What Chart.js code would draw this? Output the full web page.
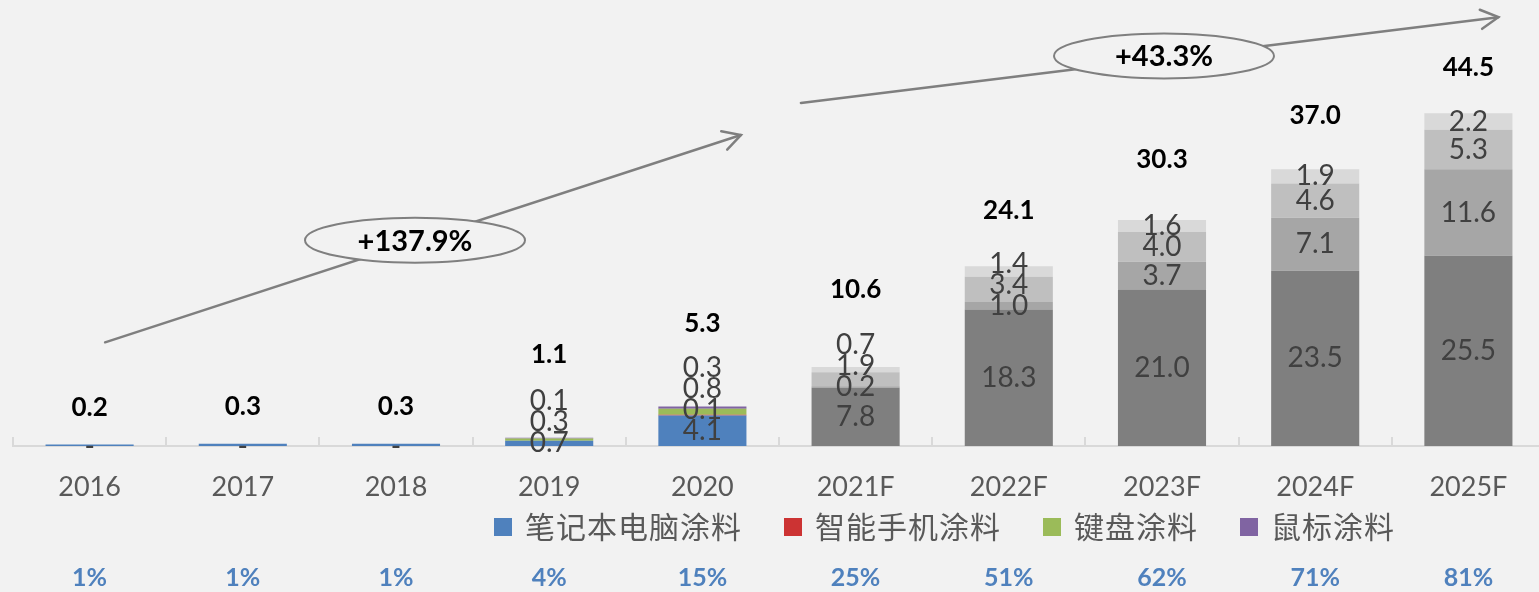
<!DOCTYPE html>
<html>
<head>
<meta charset="utf-8">
<script src="https://cdn.jsdelivr.net/npm/chart.js@4.4.1/dist/chart.umd.min.js"></script>
<style>
  html, body { margin: 0; padding: 0; background: #f2f2f2; overflow: hidden; }
  #wrap { position: relative; width: 1545px; height: 592px; }
</style>
</head>
<body>
<div id="wrap"><canvas id="c"></canvas></div>
<script>
// Market size by application (stacked), forecast years marked with "F"
const years = ['2016', '2017', '2018', '2019', '2020', '2021F', '2022F', '2023F', '2024F', '2025F'];
const laptopCoating   = [0.2, 0.3, 0.3, 0.7, 4.1, 7.8, 18.3, 21.0, 23.5, 25.5];
const phoneCoating    = [0, 0, 0, 0, 0.1, 0.2, 1.0, 3.7, 7.1, 11.6];
const keyboardCoating = [0, 0, 0, 0.3, 0.8, 1.9, 3.4, 4.0, 4.6, 5.3];
const mouseCoating    = [0, 0, 0, 0.1, 0.3, 0.7, 1.4, 1.6, 1.9, 2.2];
const marketTotals    = [0.2, 0.3, 0.3, 1.1, 5.3, 10.6, 24.1, 30.3, 37.0, 44.5];
const shareLabels     = ['1%', '1%', '1%', '4%', '15%', '25%', '51%', '62%', '71%', '81%'];
const seriesNames     = ['笔记本电脑涂料', '智能手机涂料', '键盘涂料', '鼠标涂料'];
const growthNotes     = ['+137.9%', '+43.3%'];

const actualColors   = ['#4f81bd', '#cc3333', '#9bbb59', '#8064a2'];
const forecastColors = ['#7f7f7f', '#a6a6a6', '#bfbfbf', '#d9d9d9'];
const seriesValues = [laptopCoating, phoneCoating, keyboardCoating, mouseCoating];

const datasets = seriesValues.map((vals, k) => ({
  label: seriesNames[k],
  data: vals,
  backgroundColor: years.map(y => y.endsWith('F') ? forecastColors[k] : actualColors[k]),
  borderWidth: 0,
  barPercentage: 0.575,
  categoryPercentage: 1.0
}));

const NUM_FONT = 'Lato, "Open Sans", "DejaVu Sans", sans-serif';

// Small vertical ticks rising from the axis between categories
const axisTicks = {
  id: 'axisTicks',
  afterDatasetsDraw(chart) {
    const { ctx, scales: { x, y } } = chart;
    const step = x.getPixelForValue(1) - x.getPixelForValue(0);
    ctx.save();
    ctx.strokeStyle = '#d9d9d9';
    ctx.lineWidth = 2;
    for (let i = 0; i <= years.length; i++) {
      const bx = Math.round(x.getPixelForValue(0) - step / 2 + i * step);
      ctx.beginPath();
      ctx.moveTo(bx, y.bottom);
      ctx.lineTo(bx, y.bottom - 9);
      ctx.stroke();
    }
    ctx.restore();
  }
};

// Segment values, stack totals and the share row
const valueLabels = {
  id: 'valueLabels',
  afterDatasetsDraw(chart, args, opts) {
    const { ctx, scales: { x, y } } = chart;
    ctx.save();
    ctx.textAlign = 'center';
    ctx.textBaseline = 'middle';
    years.forEach((_, i) => {
      let stack = 0;
      seriesValues.forEach(v => { stack += v[i]; });
      let prev = Infinity;
      ctx.font = '28px ' + NUM_FONT;
      ctx.fillStyle = '#404040';
      chart.data.datasets.forEach((ds, k) => {
        const v = ds.data[i];
        if (!v) return;
        const el = chart.getDatasetMeta(k).data[i];
        let cy = (el.y + el.base) / 2;
        cy = Math.min(cy, prev - opts.gap);
        prev = cy;
        if (stack < 0.5) {
          ctx.fillText('-', el.x, cy + 2);
        } else {
          ctx.fillText(v.toFixed(1), el.x, cy);
        }
      });
      // stack total above the bar
      ctx.font = 'bold 26px ' + NUM_FONT;
      ctx.fillStyle = '#000000';
      const top = y.getPixelForValue(stack);
      ctx.fillText(marketTotals[i].toFixed(1), x.getPixelForValue(i), top - opts.lift[i]);
      // share row along the bottom
      ctx.font = 'bold 25px ' + NUM_FONT;
      ctx.fillStyle = '#4f81bd';
      ctx.fillText(shareLabels[i], x.getPixelForValue(i), opts.shareY);
    });
    ctx.restore();
  }
};

// Trend arrows with growth-rate ellipses
const growthArrows = {
  id: 'growthArrows',
  afterDraw(chart, args, opts) {
    const { ctx, scales: { x, y } } = chart;
    const pt = ([cat, dx, val]) => [x.getPixelForValue(cat) + dx, y.getPixelForValue(val)];
    ctx.save();
    opts.arrows.forEach((a, n) => {
      const [x0, y0] = pt(a.from);
      const [x1, y1] = pt(a.to);
      ctx.strokeStyle = '#7f7f7f';
      ctx.lineWidth = 2.5;
      ctx.lineCap = 'round';
      ctx.beginPath();
      ctx.moveTo(x0, y0);
      ctx.lineTo(x1, y1);
      ctx.stroke();
      const ang = Math.atan2(y1 - y0, x1 - x0);
      const head = 20, spread = 0.5;
      ctx.beginPath();
      ctx.moveTo(x1 - head * Math.cos(ang - spread), y1 - head * Math.sin(ang - spread));
      ctx.lineTo(x1, y1);
      ctx.lineTo(x1 - head * Math.cos(ang + spread), y1 - head * Math.sin(ang + spread));
      ctx.stroke();
      const [cx, cy] = pt(a.note);
      ctx.beginPath();
      ctx.ellipse(cx, cy, 110, 22.5, 0, 0, Math.PI * 2);
      ctx.fillStyle = '#f2f2f2';
      ctx.fill();
      ctx.lineWidth = 2;
      ctx.stroke();
      ctx.fillStyle = '#000000';
      ctx.font = 'bold 29px ' + NUM_FONT;
      ctx.textAlign = 'center';
      ctx.textBaseline = 'middle';
      ctx.fillText(growthNotes[n], cx, cy + 1);
    });
    ctx.restore();
  }
};

// Legend row with square swatches
const swatchLegend = {
  id: 'swatchLegend',
  afterDraw(chart, args, opts) {
    const { ctx } = chart;
    ctx.save();
    ctx.font = '30px "Noto Sans CJK SC", sans-serif';
    ctx.letterSpacing = '1px';
    ctx.textBaseline = 'middle';
    ctx.textAlign = 'left';
    let lx = opts.left;
    const cy = opts.y;
    chart.data.datasets.forEach((ds, k) => {
      ctx.fillStyle = actualColors[k];
      ctx.fillRect(lx, cy - 9, 18, 18);
      ctx.fillStyle = '#595959';
      const tx = lx + 31;
      ctx.fillText(ds.label, tx, cy);
      lx = tx + ctx.measureText(ds.label).width + 42;
    });
    ctx.restore();
  }
};

new Chart(document.getElementById('c'), {
  type: 'bar',
  data: { labels: years, datasets },
  options: {
    responsive: true,
    maintainAspectRatio: false,
    animation: false,
    devicePixelRatio: 1,
    layout: { padding: { left: 13, right: 0, top: 0, bottom: 0 } },
    plugins: {
      legend: { display: false },
      tooltip: { enabled: false },
      valueLabels: {
        gap: 21,
        lift: [37, 37, 37, 83, 83, 77, 56, 60, 54, 46],
        shareY: 578
      },
      growthArrows: {
        arrows: [
          { from: [0, 15.5, 13.9], to: [4, 38.5, 41.7], note: [2, 19, 27.6] },
          { from: [4, 98.5, 46.0], to: [9, 30, 57.5], note: [7, 2, 52.3] }
        ]
      },
      swatchLegend: { left: 494, y: 527 }
    },
    scales: {
      x: {
        stacked: true,
        grid: { display: false, drawTicks: false },
        border: { display: true, color: '#d9d9d9', width: 2 },
        ticks: {
          color: '#595959',
          font: { family: NUM_FONT, size: 27 },
          padding: 25,
          maxRotation: 0
        },
        afterFit(scale) { scale.height = 146; }
      },
      y: {
        stacked: true,
        display: false,
        min: 0,
        max: 59.8
      }
    }
  },
  plugins: [axisTicks, valueLabels, growthArrows, swatchLegend]
});
</script>
</body>
</html>
